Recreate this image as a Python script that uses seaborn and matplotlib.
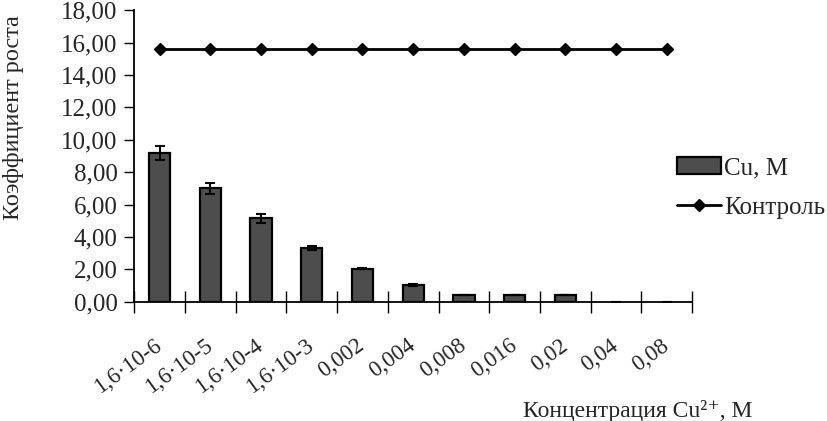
import numpy as np
import matplotlib
matplotlib.use('Agg')
import matplotlib.pyplot as plt
import seaborn as sns
from matplotlib.ticker import FuncFormatter
from matplotlib.patches import Patch
from matplotlib.lines import Line2D

# Данные
categories = ['1,6·10-6', '1,6·10-5', '1,6·10-4', '1,6·10-3', '0,002', '0,004',
              '0,008', '0,016', '0,02', '0,04', '0,08']
cu_values = [9.2, 7.0, 5.15, 3.3, 2.05, 1.05, 0.45, 0.45, 0.45, 0.0, 0.0]
cu_errors = [0.42, 0.35, 0.3, 0.12, 0.05, 0.05, 0.0, 0.0, 0.0, 0.0, 0.0]
control_values = [15.6] * 11

sns.set_style('ticks')
plt.rcParams['font.family'] = ['Liberation Serif', 'DejaVu Serif']

fig = plt.figure(figsize=(8.28, 4.21), dpi=100)
ax = fig.add_axes([0.162, 0.283, 0.674, 0.693])

x = np.arange(len(categories))
sns.barplot(x=categories, y=cu_values, color='#4d4d4d', edgecolor='black',
            linewidth=1.6, width=0.42, saturation=1, ax=ax)
# нулевые столбцы не рисуем контуром
for p, v in zip(ax.patches, cu_values):
    if v == 0:
        p.set_linewidth(0)
ax.errorbar(x, cu_values, yerr=cu_errors, fmt='none', ecolor='black',
            elinewidth=1.5, capsize=3.5, capthick=1.5)
ax.plot(x, control_values, color='black', lw=2, marker='D', markersize=6)

ax.set_xlim(-0.5, len(categories) - 0.5)
ax.set_ylim(0, 18)
ax.set_yticks(np.arange(0, 19, 2))
ax.yaxis.set_major_formatter(FuncFormatter(lambda v, p: f'{v:.2f}'.replace('.', ',')))
ax.tick_params(axis='y', labelsize=18, length=7, width=1, color='black', pad=5)

# засечки по границам категорий
ax.set_xticks(x)
ax.set_xticklabels(categories, rotation=36, ha='right', va='center',
                   rotation_mode='anchor', fontsize=16.5)
ax.tick_params(axis='x', length=0, pad=30)
ax.set_xticks(np.arange(-0.5, len(categories)), minor=True)
ax.tick_params(axis='x', which='minor', direction='inout', length=16, width=1, color='black')

for s in ['top', 'right']:
    ax.spines[s].set_visible(False)
for s in ['left', 'bottom']:
    ax.spines[s].set_linewidth(1.3)
    ax.spines[s].set_color('black')

ax.set_ylabel('Коэффициент роста', fontsize=17.5)
ax.yaxis.set_label_coords(-0.197, 0.63)
ax.set_xlabel('Концентрация Cu²⁺, М', fontsize=17)
ax.xaxis.set_label_coords(0.903, -0.335)

handles = [Patch(facecolor='#4d4d4d', edgecolor='black', linewidth=1.6),
           Line2D([0], [0], color='black', lw=2, marker='D', markersize=6)]
fig.legend(handles, ['Cu, M', 'Контроль'], loc='upper left',
           bbox_to_anchor=(0.8176, 0.628), frameon=False, fontsize=18,
           borderpad=0, borderaxespad=0,
           handlelength=1.75, handletextpad=0.15, labelspacing=0.7)

fig.savefig('out.png', dpi=100)
